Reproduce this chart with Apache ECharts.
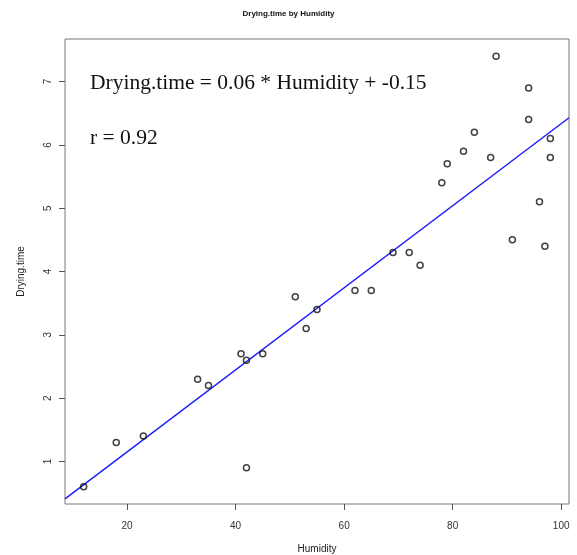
<!DOCTYPE html>
<html>
<head>
<meta charset="utf-8">
<script src="https://cdn.jsdelivr.net/npm/echarts@6/dist/echarts.min.js"></script>
<style>
html,body{margin:0;padding:0;background:#fff;}
#chart{width:577px;height:555px;}
</style>
</head>
<body>
<div id="chart"></div>
<script>
// Data
const humidity = [12, 18, 23, 33, 35, 41, 42, 42, 45, 51, 53, 55, 62, 65, 69, 72, 74, 78, 79, 82, 84, 87, 88, 91, 94, 94, 96, 97, 98, 98];
const dryingTime = [0.6, 1.3, 1.4, 2.3, 2.2, 2.7, 2.6, 0.9, 2.7, 3.6, 3.1, 3.4, 3.7, 3.7, 4.3, 4.3, 4.1, 5.4, 5.7, 5.9, 6.2, 5.8, 7.4, 4.5, 6.9, 6.4, 5.1, 4.4, 6.1, 5.8];
const xTicks = [20, 40, 60, 80, 100];
const yTicks = [1, 2, 3, 4, 5, 6, 7];
const titleText = 'Drying.time by Humidity';
const eqText = 'Drying.time = 0.06 * Humidity + -0.15';
const rText = 'r = 0.92';

// R-style axis ranges (data range extended by 4%)
function rRange(a) {
  const mn = Math.min(...a), mx = Math.max(...a), d = (mx - mn) * 0.04;
  return [mn - d, mx + d];
}
const xr = rRange(humidity), yr = rRange(dryingTime);

// Least-squares fit
const n = humidity.length;
const mx = humidity.reduce((s, v) => s + v, 0) / n;
const my = dryingTime.reduce((s, v) => s + v, 0) / n;
let sxy = 0, sxx = 0;
for (let i = 0; i < n; i++) { sxy += (humidity[i] - mx) * (dryingTime[i] - my); sxx += (humidity[i] - mx) ** 2; }
const slope = sxy / sxx, intercept = my - slope * mx;
const fitLine = [[xr[0], intercept + slope * xr[0]], [xr[1], intercept + slope * xr[1]]];

const points = humidity.map((h, i) => [h, dryingTime[i]]);

const chart = echarts.init(document.getElementById('chart'), null, {renderer: 'canvas'});
const labelFont = 'Liberation Sans, Arial, Helvetica, sans-serif';
const serifFont = '21.5px "Liberation Serif", "Times New Roman", serif';
chart.setOption({
  animation: false,
  backgroundColor: '#fff',
  title: {
    text: titleText,
    left: 'center',
    top: 5,
    textStyle: {fontFamily: labelFont, fontSize: 8, fontWeight: 'bold', color: '#111'}
  },
  grid: {left: 65, top: 39, width: 504, height: 465, outerBoundsMode: 'none', containLabel: false, show: true, borderColor: '#777', borderWidth: 1, backgroundColor: 'transparent'},
  xAxis: {
    type: 'value',
    min: xr[0], max: xr[1],
    name: 'Humidity',
    nameLocation: 'middle',
    nameGap: 40,
    nameTextStyle: {fontFamily: labelFont, fontSize: 10, color: '#222'},
    axisLine: {show: false},
    axisTick: {show: true, length: 6, lineStyle: {color: '#555'}, customValues: xTicks},
    axisLabel: {fontFamily: labelFont, fontSize: 10, color: '#333', margin: 17, customValues: xTicks},
    splitLine: {show: false}
  },
  yAxis: {
    type: 'value',
    min: yr[0], max: yr[1],
    name: 'Drying.time',
    nameLocation: 'middle',
    nameGap: 39,
    nameRotate: 90,
    nameTextStyle: {fontFamily: labelFont, fontSize: 10, color: '#222'},
    axisLine: {show: false},
    axisTick: {show: true, length: 6, lineStyle: {color: '#555'}, customValues: yTicks},
    axisLabel: {fontFamily: labelFont, fontSize: 10, color: '#333', margin: 12, rotate: 90, customValues: yTicks},
    splitLine: {show: false}
  },
  graphic: [
    {type: 'text', left: 90, top: 72, style: {text: eqText, font: serifFont, fill: '#111'}},
    {type: 'text', left: 90, top: 127, style: {text: rText, font: serifFont, fill: '#111'}}
  ],
  series: [
    {
      type: 'line',
      data: fitLine,
      symbol: 'none',
      lineStyle: {color: '#1a1aff', width: 1.4},
      silent: true,
      z: 2
    },
    {
      type: 'scatter',
      data: points,
      symbol: 'circle',
      symbolSize: 6,
      itemStyle: {color: 'rgba(255,255,255,0)', borderColor: '#111', borderWidth: 1.5},
      z: 3
    }
  ]
});
</script>
</body>
</html>
